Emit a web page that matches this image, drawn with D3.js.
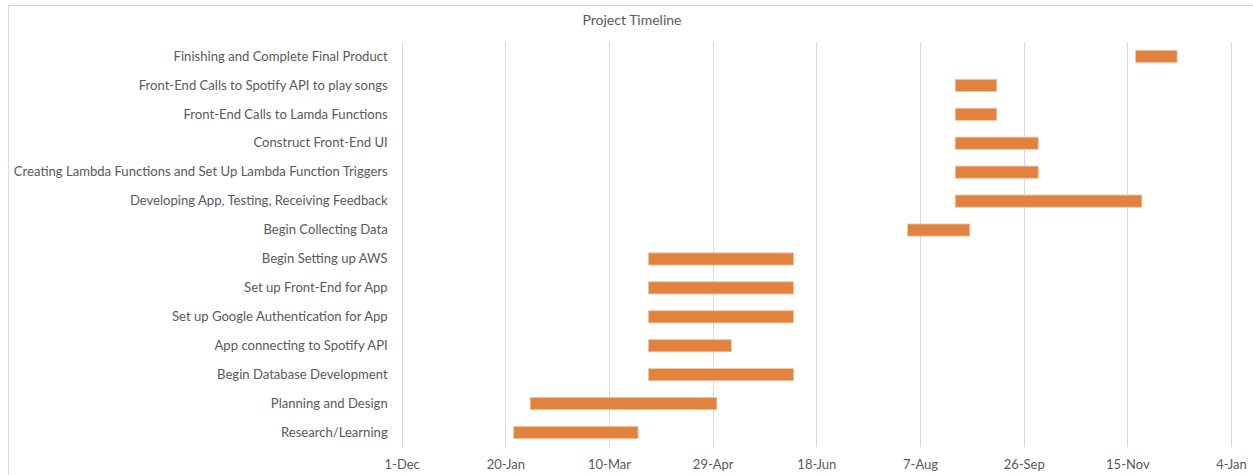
<!DOCTYPE html>
<html lang="en">
<head>
  <meta charset="UTF-8">
  <title>Project Timeline</title>
  <script src="https://d3js.org/d3.v7.min.js"></script>
  <style>
    body { margin: 0; background: #fff; font-family: 'Lato', sans-serif; }
  </style>
</head>
<body>
  <div id="chart"></div>

  <script>
    // tasks, top to bottom
    const tasks = [
      "Finishing and Complete Final Product",
      "Front-End Calls to Spotify API to play songs",
      "Front-End Calls to Lamda Functions",
      "Construct Front-End UI ",
      "Creating Lambda Functions and Set Up Lambda Function Triggers",
      "Developing App, Testing, Receiving Feedback",
      "Begin Collecting Data",
      "Begin Setting up AWS",
      "Set up Front-End for App",
      "Set up Google Authentication for App",
      "App connecting to Spotify API",
      "Begin Database Development",
      "Planning and Design",
      "Research/Learning"
    ];
    const starts = [
      "2020-11-19", "2020-08-24", "2020-08-24", "2020-08-24", "2020-08-24", "2020-08-24", "2020-08-01",
      "2020-03-29", "2020-03-29", "2020-03-29", "2020-03-29", "2020-03-29", "2020-02-01", "2020-01-24"
    ];
    const ends = [
      "2020-12-09", "2020-09-13", "2020-09-13", "2020-10-03", "2020-10-03", "2020-11-22", "2020-08-31",
      "2020-06-07", "2020-06-07", "2020-06-07", "2020-05-08", "2020-06-07", "2020-05-01", "2020-03-24"
    ];
    const tickDates = ["2019-12-01", "2020-01-20", "2020-03-10", "2020-04-29", "2020-06-18",
                       "2020-08-07", "2020-09-26", "2020-11-15", "2021-01-04"];
    const tickLabels = ["1-Dec", "20-Jan", "10-Mar", "29-Apr", "18-Jun", "7-Aug", "26-Sep", "15-Nov", "4-Jan"];

    const parse = d3.utcParse("%Y-%m-%d");
    const data = tasks.map((t, i) => ({ task: t, start: parse(starts[i]), end: parse(ends[i]) }));
    const ticks = tickDates.map(parse);

    const W = 1253, H = 475;
    const plot = { left: 401.7, right: 1231, top: 42, bottom: 447 };

    const svg = d3.select("#chart").append("svg")
      .attr("width", W)
      .attr("height", H);

    // chart border
    svg.append("rect")
      .attr("x", 8.5).attr("y", 5.5)
      .attr("width", W).attr("height", H)
      .attr("fill", "#fff")
      .attr("stroke", "#d9d9d9");

    svg.append("text")
      .attr("x", 632).attr("y", 25)
      .attr("text-anchor", "middle")
      .style("font-size", "14px")
      .style("fill", "#595959")
      .text("Project Timeline");

    const x = d3.scaleUtc()
      .domain([ticks[0], ticks[ticks.length - 1]])
      .range([plot.left, plot.right]);

    const y = d3.scaleBand()
      .domain(tasks)
      .range([plot.top, plot.bottom])
      .paddingInner(0.58)
      .paddingOuter(0.29);

    // gridlines
    svg.append("g")
      .selectAll("line")
      .data(ticks)
      .enter()
      .append("line")
      .attr("x1", d => Math.round(x(d)) + 0.5)
      .attr("x2", d => Math.round(x(d)) + 0.5)
      .attr("y1", plot.top)
      .attr("y2", plot.bottom)
      .attr("stroke", "#d9d9d9")
      .attr("stroke-width", 1);

    // x axis labels
    const xAxis = svg.append("g")
      .attr("transform", `translate(0,${plot.bottom})`)
      .call(d3.axisBottom(x)
        .tickValues(ticks)
        .tickFormat((d, i) => tickLabels[i])
        .tickSize(0)
        .tickPadding(13));
    xAxis.select(".domain").remove();
    xAxis.selectAll("text")
      .style("font-family", "'Lato', sans-serif")
      .style("font-size", "13px")
      .style("fill", "#595959");

    // y axis labels
    const yAxis = svg.append("g")
      .attr("transform", `translate(${plot.left},0)`)
      .call(d3.axisLeft(y).tickSize(0).tickPadding(14));
    yAxis.select(".domain").remove();
    yAxis.selectAll("text")
      .style("font-family", "'Lato', sans-serif")
      .style("font-size", "13.1px")
      .style("fill", "#595959");

    // bars
    svg.append("g")
      .selectAll("rect")
      .data(data)
      .enter()
      .append("rect")
      .attr("x", d => x(d.start))
      .attr("y", d => y(d.task))
      .attr("width", d => x(d.end) - x(d.start))
      .attr("height", y.bandwidth())
      .attr("fill", "#e1833f")
      .attr("stroke", "#f2c3a3")
      .attr("stroke-width", 0.8);
  </script>
</body>
</html>
